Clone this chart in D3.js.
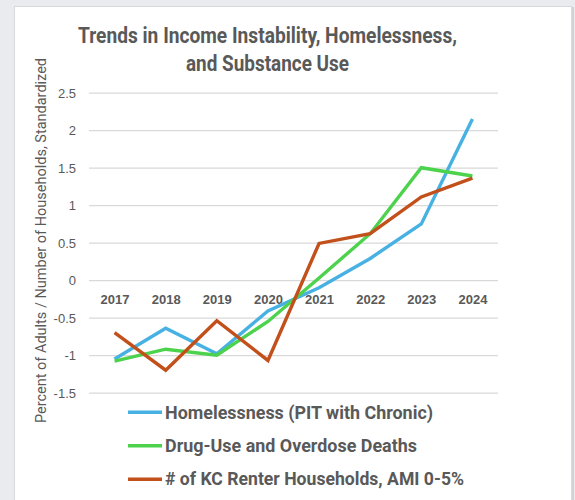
<!DOCTYPE html>
<html>
<head>
<meta charset="utf-8">
<script src="https://cdn.jsdelivr.net/npm/d3@7"></script>
<style>
  html, body { margin: 0; padding: 0; background: #e9ebee; }
  svg { display: block; }
</style>
</head>
<body>
<svg id="chart" width="575" height="500"></svg>
<script>
// Standardized trends, 2017–2024
const years = ["2017", "2018", "2019", "2020", "2021", "2022", "2023", "2024"];
const homelessness = [-1.05, -0.64, -0.98, -0.41, -0.10, 0.29, 0.75, 2.15];
const drugUse      = [-1.08, -0.92, -1.00, -0.55, 0.03, 0.62, 1.50, 1.39];
const renterHH     = [-0.70, -1.20, -0.54, -1.07, 0.49, 0.62, 1.11, 1.36];
const yTicks = [-1.5, -1, -0.5, 0, 0.5, 1, 1.5, 2, 2.5];

const seriesNames = [
  "Homelessness (PIT with Chronic)",
  "Drug-Use and Overdose Deaths",
  "# of KC Renter Households, AMI 0-5%"
];
const seriesValues = [homelessness, drugUse, renterHH];
const seriesColors = ["#47b1e3", "#4dd24d", "#c2501b"];

const svg = d3.select("#chart");
const textColor = "#595959";

// chart panel
svg.append("rect")
  .attr("x", 14.5).attr("y", 6.5)
  .attr("width", 557).attr("height", 500)
  .attr("fill", "#ffffff")
  .attr("stroke", "#d7d9dc");
svg.append("rect")
  .attr("x", 572).attr("y", 7).attr("width", 2).attr("height", 493)
  .attr("fill", "#d3d3d3");

const x = d3.scalePoint().domain(years).range([89, 498]).padding(0.5);
const y = d3.scaleLinear().domain([-1.5, 2.5]).range([392.7, 92.7]);

// gridlines
const yAxis = d3.axisLeft(y).tickValues(yTicks).tickSize(0).tickPadding(0)
  .tickFormat(d => String(d));
const gy = svg.append("g").attr("transform", "translate(89,0)").call(yAxis);
gy.select(".domain").remove();
gy.selectAll(".tick").append("line")
  .attr("x1", 0).attr("x2", 409)
  .attr("stroke", "#d9d9d9").attr("stroke-width", 1.3);
gy.selectAll(".tick text")
  .attr("x", -13).attr("dy", "0.36em")
  .attr("fill", textColor)
  .style("font-family", "'Liberation Sans', Arial, sans-serif")
  .style("font-size", "13px");

// category labels sit just under the zero line
const xAxis = d3.axisBottom(x).tickSize(0).tickPadding(0);
const gx = svg.append("g").attr("transform", `translate(0,${y(0)})`).call(xAxis);
gx.select(".domain").remove();
gx.selectAll(".tick text")
  .attr("y", 24).attr("dy", 0)
  .attr("fill", textColor)
  .style("font-family", "'Liberation Sans', Arial, sans-serif")
  .style("font-weight", "bold")
  .style("font-size", "13px");

// series lines
const line = d3.line().x((d, i) => x(years[i])).y(d => y(d));
seriesValues.forEach((vals, k) => {
  svg.append("path")
    .datum(vals)
    .attr("d", line)
    .attr("fill", "none")
    .attr("stroke", seriesColors[k])
    .attr("stroke-width", 3.4)
    .attr("stroke-linejoin", "miter")
    .attr("stroke-linecap", "butt");
});

// title
const title = svg.append("g")
  .style("font-family", "Roboto, 'Liberation Sans', sans-serif")
  .style("font-weight", "bold")
  .attr("fill", textColor);
title.append("text")
  .attr("x", 267.5).attr("y", 43).attr("text-anchor", "middle")
  .attr("textLength", 379).attr("lengthAdjust", "spacingAndGlyphs")
  .style("font-size", "22.5px")
  .text("Trends in Income Instability, Homelessness,");
title.append("text")
  .attr("x", 267.5).attr("y", 71).attr("text-anchor", "middle")
  .attr("textLength", 163).attr("lengthAdjust", "spacingAndGlyphs")
  .style("font-size", "22.5px")
  .text("and Substance Use");

// y-axis title
svg.append("text")
  .attr("transform", "translate(45.5,240.5) rotate(-90)")
  .attr("text-anchor", "middle")
  .attr("textLength", 365).attr("lengthAdjust", "spacingAndGlyphs")
  .attr("fill", textColor)
  .style("font-family", "Roboto, 'Liberation Sans', sans-serif")
  .style("font-size", "15.5px")
  .text("Percent of Adults / Number of Households, Standardized");

// legend
const legendRows = [
  { lineY: 412.3, baseY: 418.5, width: 268 },
  { lineY: 445.7, baseY: 451.8, width: 252 },
  { lineY: 479.3, baseY: 485.2, width: 299 }
];
const legend = svg.append("g");
seriesNames.forEach((name, k) => {
  const r = legendRows[k];
  legend.append("line")
    .attr("x1", 128).attr("x2", 162)
    .attr("y1", r.lineY).attr("y2", r.lineY)
    .attr("stroke", seriesColors[k]).attr("stroke-width", 3.4);
  legend.append("text")
    .attr("x", 165).attr("y", r.baseY)
    .attr("textLength", r.width).attr("lengthAdjust", "spacingAndGlyphs")
    .attr("fill", textColor)
    .style("font-family", "Roboto, 'Liberation Sans', sans-serif")
    .style("font-weight", "bold")
    .style("font-size", "17.5px")
    .text(name);
});
</script>
</body>
</html>
